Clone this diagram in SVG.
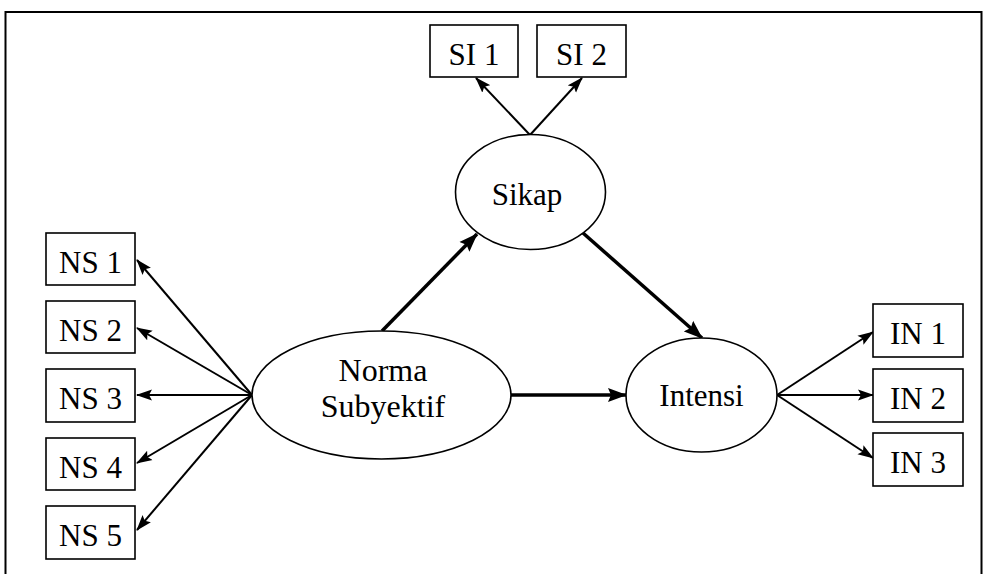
<svg xmlns="http://www.w3.org/2000/svg" width="983" height="574" viewBox="0 0 983 574">
<defs>
<marker id="ah" markerUnits="userSpaceOnUse" markerWidth="16" markerHeight="12" refX="15" refY="6" orient="auto"><path d="M0,0.5 L16,6 L0,11.5 L3,6 z" fill="#000"/></marker>
<marker id="ahb" markerUnits="userSpaceOnUse" markerWidth="19" markerHeight="15" refX="18" refY="7.5" orient="auto"><path d="M0,0.5 L19,7.5 L0,14.5 L3,7.5 z" fill="#000"/></marker>
</defs>
<style>
.box{fill:#fff;stroke:#000;stroke-width:1.6}
.ell{fill:#fff;stroke:#000;stroke-width:1.6}
.t{font-family:"Liberation Serif","Times New Roman",serif;font-size:31px;fill:#000;text-anchor:middle}
.n{font-size:32px}
.c{stroke:#000;stroke-width:2;fill:none;marker-end:url(#ah)}
.cb{stroke:#000;stroke-width:3.5;fill:none;marker-end:url(#ahb)}
</style>
<rect width="983" height="574" fill="#fff"/>
<path d="M5.5,574 V12 H981.5 V574" fill="none" stroke="#000" stroke-width="2"/>
<g id="connectors">
<line class="c" x1="530" y1="135" x2="476" y2="78"/>
<line class="c" x1="530" y1="135" x2="582" y2="78"/>
<line class="c" x1="252" y1="395" x2="137" y2="260"/>
<line class="c" x1="252" y1="395" x2="137" y2="328"/>
<line class="c" x1="252" y1="395" x2="137" y2="395"/>
<line class="c" x1="252" y1="395" x2="137" y2="463"/>
<line class="c" x1="252" y1="395" x2="137" y2="530"/>
<line class="c" x1="777" y1="395" x2="873" y2="332"/>
<line class="c" x1="777" y1="395" x2="873" y2="395"/>
<line class="c" x1="777" y1="395" x2="873" y2="458"/>
<line class="cb" x1="382" y1="331" x2="477" y2="234"/>
<line class="cb" x1="511" y1="395" x2="626" y2="395"/>
<line class="cb" x1="583" y1="233" x2="702" y2="338"/>
</g>
<g id="si1"><rect class="box" x="430" y="25" width="88" height="52"/><text class="t" x="474" y="65">SI 1</text></g>
<g id="si2"><rect class="box" x="537" y="25" width="89" height="52"/><text class="t" x="581.5" y="65">SI 2</text></g>
<g id="sikap"><ellipse class="ell" cx="530.5" cy="192" rx="75" ry="57.5"/><text class="t" x="527" y="205">Sikap</text></g>
<g id="norma"><ellipse class="ell" cx="381.5" cy="395" rx="129.5" ry="64"/><text class="t n" x="383" y="381">Norma</text><text class="t n" x="383" y="417">Subyektif</text></g>
<g id="intensi"><ellipse class="ell" cx="701.5" cy="395" rx="75.5" ry="57"/><text class="t" x="701.5" y="406">Intensi</text></g>
<g id="ns1"><rect class="box" x="46" y="233" width="89" height="52"/><text class="t" x="90.5" y="273">NS 1</text></g>
<g id="ns2"><rect class="box" x="46" y="301" width="89" height="52"/><text class="t" x="90.5" y="341">NS 2</text></g>
<g id="ns3"><rect class="box" x="46" y="369" width="89" height="53"/><text class="t" x="90.5" y="409">NS 3</text></g>
<g id="ns4"><rect class="box" x="46" y="438" width="89" height="52"/><text class="t" x="90.5" y="478">NS 4</text></g>
<g id="ns5"><rect class="box" x="46" y="506" width="89" height="53"/><text class="t" x="90.5" y="546">NS 5</text></g>
<g id="in1"><rect class="box" x="873" y="304" width="90" height="53"/><text class="t" x="918" y="344">IN 1</text></g>
<g id="in2"><rect class="box" x="873" y="369" width="90" height="53"/><text class="t" x="918" y="409">IN 2</text></g>
<g id="in3"><rect class="box" x="873" y="433" width="90" height="53"/><text class="t" x="918" y="473">IN 3</text></g>
</svg>
